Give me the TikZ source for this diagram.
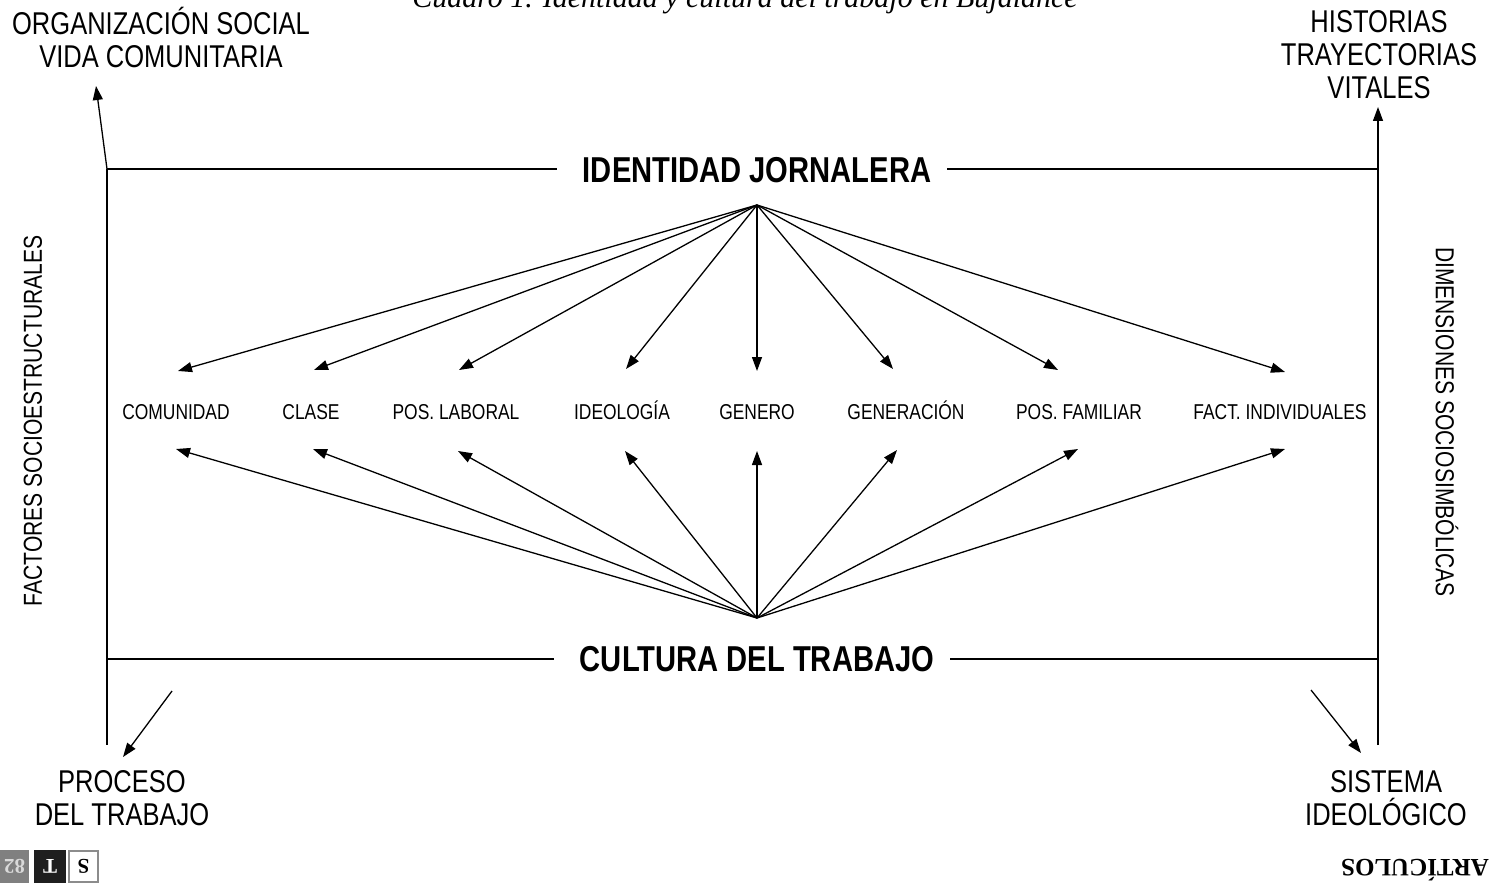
\documentclass[tikz,border=0pt]{standalone}
\usepackage{fontspec}
\setmainfont{Liberation Sans}[FakeStretch=0.81]
\newfontfamily\capfont{Liberation Serif}
\usetikzlibrary{arrows.meta}
\tikzset{
  lab/.style={font=\fontsize{31.5}{33}\selectfont, align=center, inner sep=0pt},
  mid/.style={font=\fontsize{21.5}{24}\selectfont, inner sep=0pt, anchor=base},
  ttl/.style={font=\fontsize{36}{40}\selectfont\bfseries, inner sep=0pt},
  side/.style={font=\fontsize{26}{28}\selectfont, inner sep=0pt},
  ln/.style={line width=1.3pt, black},
  arr/.style={line width=1.3pt, -{Triangle[length=14pt,width=10pt]}},
  pgbox/.style={minimum height=33pt, inner sep=0pt, font=\capfont\bfseries\fontsize{21}{21}\selectfont, rotate=180},
}
\begin{document}
\begin{tikzpicture}[x=1pt,y=-1pt]
\useasboundingbox (0,0) rectangle (1501,885);
\fill[white] (0,0) rectangle (1501,885);
% caption (cut at top)
\node[font=\capfont\itshape\fontsize{30}{32}\selectfont, anchor=base, inner sep=0pt] (cap) at (745,8) {Cuadro 1. Identidad y cultura del trabajo en Bujalance};
% titles
\node[ttl] (idt) at (757,170) {IDENTIDAD JORNALERA};
\node[ttl] (cul) at (757,659) {CULTURA DEL TRABAJO};
% corner labels
\node[lab] (org) at (161,37) {ORGANIZACIÓN SOCIAL\\VIDA COMUNITARIA};
\node[lab] (his) at (1379,55) {HISTORIAS\\TRAYECTORIAS\\VITALES};
\node[lab] (pro) at (122,798) {PROCESO\\DEL TRABAJO};
\node[lab] (sis) at (1386,798) {SISTEMA\\IDEOLÓGICO};
% side labels
\node[side, rotate=90] (fac) at (33,421) {FACTORES SOCIOESTRUCTURALES};
\node[side, rotate=-90] (dim) at (1447,422) {DIMENSIONES SOCIOSIMBÓLICAS};
% middle labels
\node[mid] (m1) at (176,419) {COMUNIDAD};
\node[mid] (m2) at (311,419) {CLASE};
\node[mid] (m3) at (456,419) {POS. LABORAL};
\node[mid] (m4) at (622,419) {IDEOLOGÍA};
\node[mid] (m5) at (757,419) {GENERO};
\node[mid] (m6) at (906,419) {GENERACIÓN};
\node[mid] (m7) at (1079,419) {POS. FAMILIAR};
\node[mid] (m8) at (1280,419) {FACT. INDIVIDUALES};
% frame coordinates
\coordinate (TL) at (107,169);
\coordinate (TR) at (1378,169);
\coordinate (BL) at (107,659);
\coordinate (BR) at (1378,659);
\coordinate (LB) at (107,745);
\coordinate (RB) at (1378,745);
\coordinate (RT) at (1378,107);
\coordinate (OT) at (96,86);
\coordinate (PA) at (172,691);
\coordinate (PT) at (123,757);
\coordinate (SA) at (1311,690);
\coordinate (ST) at (1361,753);
% frame
\draw[ln] (TL) -- ([xshift=-26pt]idt.west|-TL);
\draw[ln] ([xshift=16pt]idt.east|-TR) -- (TR);
\draw[ln] (BL) -- ([xshift=-26pt]cul.west|-BL);
\draw[ln] ([xshift=16pt]cul.east|-BR) -- (BR);
\draw[ln] (TL) -- (LB);
\draw[arr] (RB) -- (RT);
\draw[arr] (TL) -- (OT);
\draw[arr] (PA) -- (PT);
\draw[arr] (SA) -- (ST);
% apexes
\coordinate (A) at (757,205);
\coordinate (B) at (757,618);
% top arrow tips
\coordinate (a1) at (178,371);
\coordinate (a2) at (314,370);
\coordinate (a3) at (459,370);
\coordinate (a4) at (626,369);
\coordinate (a5) at (757,371);
\coordinate (a6) at (893,369);
\coordinate (a7) at (1058,370);
\coordinate (a8) at (1285,372);
% bottom arrow tips
\coordinate (b1) at (176,449);
\coordinate (b2) at (313,449);
\coordinate (b3) at (458,451);
\coordinate (b4) at (625,451);
\coordinate (b5) at (757,451);
\coordinate (b6) at (897,450);
\coordinate (b7) at (1078,449);
\coordinate (b8) at (1285,449);
\foreach \i in {1,...,8} {
  \draw[arr] (A) -- (a\i);
  \draw[arr] (B) -- (b\i);
}
% page decorations (upside down)
\node[pgbox, fill=black!50, minimum width=29pt, text=white!85!black] (pg) at (14.5,866.5) {82};
\node[pgbox, fill=black!88, minimum width=32pt, text=white] (pt) at (50,866.5) {T};
\node[pgbox, draw=black!45, line width=1.5pt, fill=white, minimum width=29pt, minimum height=31pt] (ps) at (83.5,866.5) {S};
\node[font=\capfont\bfseries\fontsize{25}{25}\selectfont, rotate=180, inner sep=0pt] (art) at (1415,870) {ARTÍCULOS};
\end{tikzpicture}
\end{document}
